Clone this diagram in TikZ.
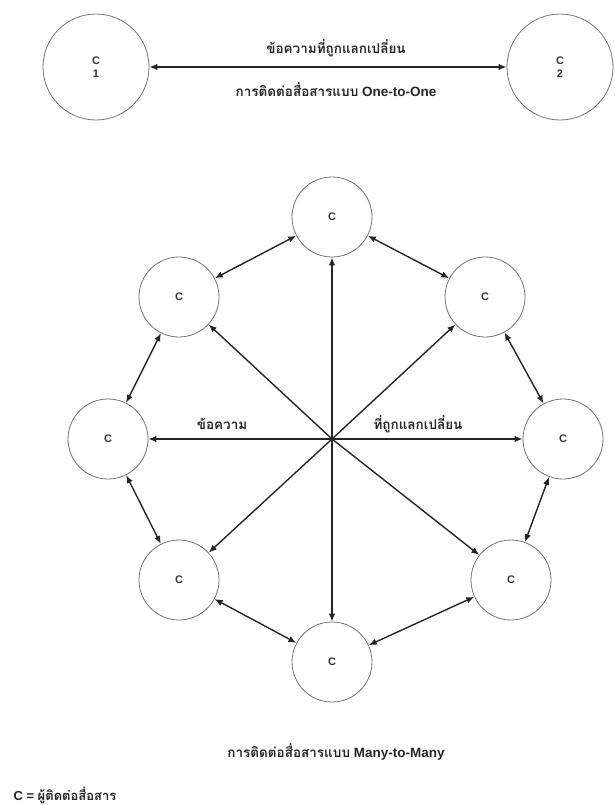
\documentclass[tikz,border=0pt]{standalone}
\usepackage{fontspec}
\setmainfont{Liberation Sans}
\newfontfamily\thai[Script=Thai]{Loma}
\usetikzlibrary{arrows.meta}
\begin{document}
\begin{tikzpicture}[x=1pt,y=-1pt,
  cnode/.style={circle,draw=black!55,line width=0.8pt,minimum size=80pt,inner sep=0pt,align=center,text=black!80,font=\bfseries\fontsize{11}{13}\selectfont},
  bignode/.style={cnode,minimum size=106pt},
  conn/.style={line width=1.4pt,draw=black!85,-{Latex[length=8pt,width=6.5pt]}},
  dconn/.style={line width=1.4pt,draw=black!85,{Latex[length=8pt,width=6.5pt]}-{Latex[length=8pt,width=6.5pt]}},
  lbl/.style={text=black!85,font=\bfseries\fontsize{13.5}{15}\selectfont}]
\useasboundingbox (0,0) rectangle (614,805);
% one-to-one
\node[bignode] (c1) at (96,67) {C\\1};
\node[bignode] (c2) at (560,67) {C\\2};
\draw[dconn] (c1) -- (c2);
\node[lbl] (m1) at (336,48) {\thai ข้อความที่ถูกแลกเปลี่ยน};
\node[lbl] (m2) at (336,90) {{\thai การติดต่อสื่อสารแบบ} One-to-One};
% many-to-many
\coordinate (o) at (332,439);
\node[cnode] (t) at (332,217) {C};
\node[cnode] (ul) at (179,297) {C};
\node[cnode] (ur) at (485,297) {C};
\node[cnode] (l) at (108,439) {C};
\node[cnode] (r) at (563,439) {C};
\node[cnode] (ll) at (179,580) {C};
\node[cnode] (lr) at (511,580) {C};
\node[cnode] (b) at (332,662) {C};
\foreach \n in {t,ul,ur,l,r,ll,lr,b} \draw[conn] (o) -- (\n);
\draw[dconn] (t) -- (ul);
\draw[dconn] (t) -- (ur);
\draw[dconn] (ul) -- (l);
\draw[dconn] (l) -- (ll);
\draw[dconn] (ll) -- (b);
\draw[dconn] (b) -- (lr);
\draw[dconn] (ur) -- (r);
\draw[dconn] (r) -- (lr);
\node[lbl] (m3) at (222,424) {\thai ข้อความ};
\node[lbl] (m4) at (418,424) {\thai ที่ถูกแลกเปลี่ยน};
\node[lbl] (m5) at (336,752) {{\thai การติดต่อสื่อสารแบบ} Many-to-Many};
\node[lbl,anchor=west,font=\bfseries\fontsize{13}{15}\selectfont] (leg) at (10,795) {C = {\thai ผู้ติดต่อสื่อสาร}};
\end{tikzpicture}
\end{document}
